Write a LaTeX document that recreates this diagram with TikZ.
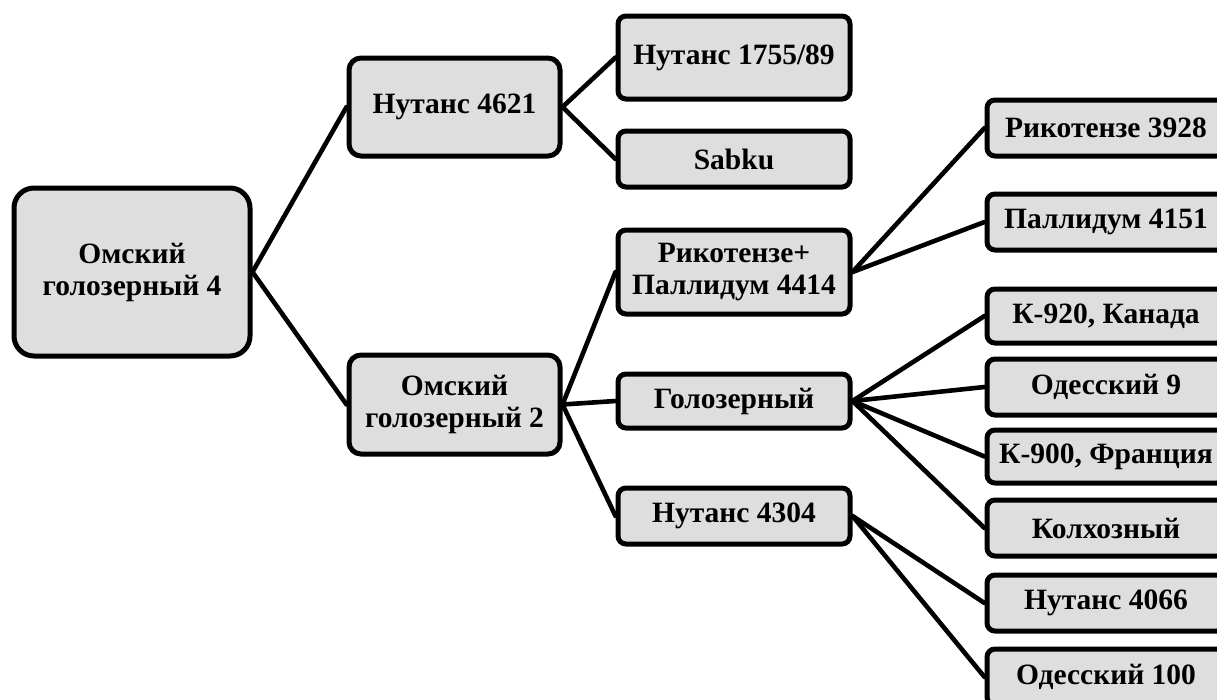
\documentclass[tikz,border=0pt]{standalone}
\usepackage{fontspec}
\setmainfont{Liberation Serif}
\definecolor{boxgray}{HTML}{DEDEDE}
\begin{document}
\begin{tikzpicture}[x=1pt,y=-1pt,
  box/.style={draw=black, line width=5pt, fill=boxgray, rounded corners=8pt,
    font=\bfseries\fontsize{29.5}{32}\selectfont, align=center, inner sep=0pt},
  link/.style={draw=black, line width=4.6pt, line cap=round}]
\useasboundingbox (0,0) rectangle (1217,699);
\begin{scope}
\clip (0,0) rectangle (1217,699);
% level 0
\node[box, rounded corners=20pt, minimum width=236pt, minimum height=168pt] (root) at (132,272) {Омский\\голозерный 4};
% level 1
\node[box, rounded corners=12pt, minimum width=211pt, minimum height=98pt] (n4621) at (454.5,107) {Нутанс 4621};
\node[box, rounded corners=12pt, minimum width=211pt, minimum height=99pt] (og2) at (454.5,404.5) {Омский\\голозерный 2};
% level 2
\node[box, minimum width=232pt, minimum height=83pt] (n1755) at (734,57.5) {Нутанс 1755/89};
\node[box, minimum width=232pt, minimum height=56pt] (sabku) at (734,159) {Sabku};
\node[box, minimum width=232pt, minimum height=84pt] (rp) at (734,272) {Рикотензе+\\Паллидум 4414};
\node[box, minimum width=232pt, minimum height=54pt] (gol) at (734,401) {Голозерный};
\node[box, minimum width=232pt, minimum height=56pt] (n4304) at (734,516) {Нутанс 4304};
% level 3
\node[box, minimum width=238pt, minimum height=56pt] (r3928) at (1106,128) {Рикотензе 3928};
\node[box, minimum width=238pt, minimum height=56pt] (p4151) at (1106,222) {Паллидум 4151};
\node[box, minimum width=238pt, minimum height=54pt] (k920) at (1106,316) {К-920, Канада};
\node[box, minimum width=238pt, minimum height=56pt] (od9) at (1106,387) {Одесский 9};
\node[box, minimum width=238pt, minimum height=53pt] (k900) at (1106,456.5) {К-900, Франция};
\node[box, minimum width=238pt, minimum height=56pt] (kolh) at (1106,528) {Колхозный};
\node[box, minimum width=238pt, minimum height=56pt] (n4066) at (1106,603) {Нутанс 4066};
\node[box, minimum width=238pt, minimum height=56pt] (od100) at (1106,677) {Одесский 100};
% connectors
\draw[link] (root.east) -- (n4621.west);
\draw[link] (root.east) -- (og2.west);
\draw[link] (n4621.east) -- (n1755.west);
\draw[link] (n4621.east) -- (sabku.west);
\draw[link] (og2.east) -- (rp.west);
\draw[link] (og2.east) -- (gol.west);
\draw[link] (og2.east) -- (n4304.west);
\draw[link] (rp.east) -- (r3928.west);
\draw[link] (rp.east) -- (p4151.west);
\draw[link] (gol.east) -- (k920.west);
\draw[link] (gol.east) -- (od9.west);
\draw[link] (gol.east) -- (k900.west);
\draw[link] (gol.east) -- (kolh.west);
\draw[link] (n4304.east) -- (n4066.west);
\draw[link] (n4304.east) -- (od100.west);
\end{scope}
\end{tikzpicture}
\end{document}
